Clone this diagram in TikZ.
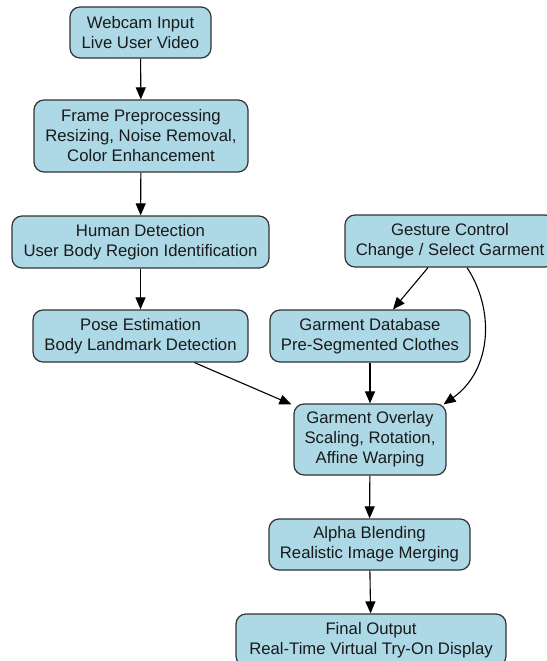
\documentclass[tikz,border=0pt]{standalone}
\usepackage{fontspec}
\setmainfont{Liberation Sans}
\usetikzlibrary{arrows.meta,calc}
\definecolor{boxfill}{HTML}{ADD8E6}
\definecolor{boxline}{HTML}{333333}
\definecolor{txt}{HTML}{1A1A1A}
\tikzset{
  box/.style={draw=boxline, fill=boxfill, rounded corners=10pt, line width=1.2pt,
    align=center, inner sep=0pt, text=txt,
    font=\fontsize{16.7}{20}\selectfont},
  arr/.style={-{Triangle[length=12pt,width=10pt]}, line width=1.1pt, black}
}
\begin{document}
\begin{tikzpicture}[x=1pt,y=-1pt]
\useasboundingbox (0,0) rectangle (546,661);
\fill[white] (0,0) rectangle (546,661);
\node[box, minimum width=141pt, minimum height=51pt] (web) at (140.5,32.5) {Webcam Input\\Live User Video};
\node[box, minimum width=214pt, minimum height=72pt] (pre) at (141,136) {Frame Preprocessing\\Resizing, Noise Removal,\\Color Enhancement};
\node[box, minimum width=257pt, minimum height=52pt] (hum) at (140.5,242) {Human Detection\\User Body Region Identification};
\node[box, minimum width=210pt, minimum height=52pt] (ges) at (450,241) {Gesture Control\\Change / Select Garment};
\node[box, minimum width=215pt, minimum height=52pt] (pose) at (140.5,336) {Pose Estimation\\Body Landmark Detection};
\node[box, minimum width=200pt, minimum height=52pt] (db) at (370,336) {Garment Database\\Pre-Segmented Clothes};
\node[box, minimum width=152pt, minimum height=71pt] (ovl) at (370,439.5) {Garment Overlay\\Scaling, Rotation,\\Affine Warping};
\node[box, minimum width=201pt, minimum height=51pt] (alp) at (369.5,544.5) {Alpha Blending\\Realistic Image Merging};
\node[box, minimum width=270pt, minimum height=52pt] (fin) at (371,640) {Final Output\\Real-Time Virtual Try-On Display};

\draw[arr] (web) -- (pre);
\draw[arr] (pre) -- (hum);
\draw[arr] (hum) -- (pose);
\draw[arr] ([xshift=-22pt]ges.south) -- ([xshift=23pt]db.north);
\draw[arr] ([xshift=17pt]ges.south) .. controls (495,310) and (492,370) .. ([xshift=-3pt,yshift=-1pt]ovl.north east);
\draw[arr] ([xshift=54pt]pose.south) -- ([xshift=-2pt,yshift=-1pt]ovl.north west);
\draw[arr] (db) -- (ovl);
\draw[arr] (ovl) -- (alp);
\draw[arr] (alp) -- (fin);
\end{tikzpicture}
\end{document}
